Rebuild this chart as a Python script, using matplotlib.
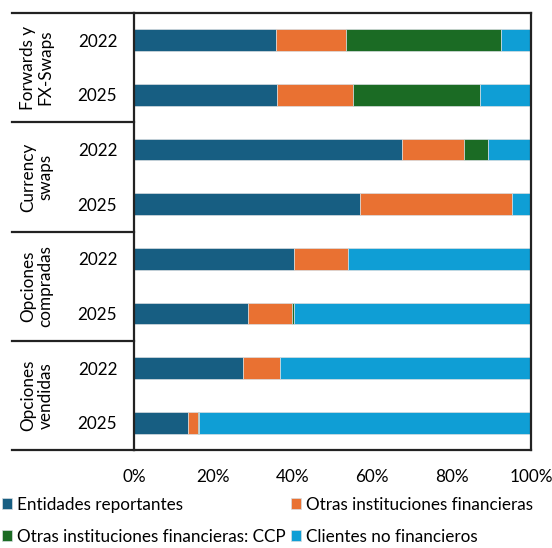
import matplotlib
matplotlib.use("Agg")
import matplotlib.pyplot as plt
import numpy as np

plt.rcParams['font.family'] = ['Lato', 'DejaVu Sans']

groups = ["Forwards y\nFX-Swaps", "Currency\nswaps", "Opciones\ncompradas", "Opciones\nvendidas"]
years = ["2022", "2025", "2022", "2025", "2022", "2025", "2022", "2025"]
series_names = ["Entidades reportantes", "Otras instituciones financieras",
                "Otras instituciones financieras: CCP", "Clientes no financieros"]
entidades = [35.8, 36.0, 67.5, 56.9, 40.4, 28.8, 27.5, 13.6]
otras = [17.5, 19.1, 15.5, 38.4, 13.4, 10.9, 9.3, 2.4]
ccp = [39.1, 32.1, 6.2, 0.0, 0.0, 0.6, 0.0, 0.3]
clientes = [100 - a - b - c for a, b, c in zip(entidades, otras, ccp)]
colors = ["#175E82", "#E97132", "#1B6B24", "#0F9ED5"]

fig = plt.figure(figsize=(5.52, 5.48), dpi=100)
ax = fig.add_axes([134/552, 1-450/548, 397/552, 437/548])

fs = 12.3
y = np.arange(len(years))
left = np.zeros(len(years))
bars = []
for vals, col, name in zip([entidades, otras, ccp, clientes], colors, series_names):
    v = np.array(vals) / 100
    b = ax.barh(y, v, left=left, height=0.4, color=col, edgecolor="#d8dde0", linewidth=0.5, label=name)
    bars.append(b)
    left += v

ax.set_xlim(0, 1)
ax.set_ylim(7.5, -0.5)
ax.set_yticks(y)
ax.set_yticklabels(years, fontsize=fs)
ax.set_xticks(np.linspace(0, 1, 6))
ax.set_xticklabels([f"{int(t)}%" for t in np.linspace(0, 100, 6)], fontsize=fs)
ax.tick_params(length=0)
ax.tick_params(axis='y', pad=12)
ax.tick_params(axis='x', pad=14)
for s in ax.spines.values():
    s.set_linewidth(1.6)
    s.set_color("#222222")

trans = matplotlib.transforms.blended_transform_factory(ax.transAxes, ax.transData)
x0 = (12 - 134) / 397
for yb in [-0.5, 1.5, 3.5, 5.5, 7.5]:
    ax.plot([x0, 0], [yb, yb], transform=trans, color="#222222", lw=1.6, clip_on=False)
for i, g in enumerate(groups):
    ax.text((37 - 134) / 397, 2 * i + 0.5, g, transform=trans, rotation=90,
            ha="center", va="center", fontsize=fs, linespacing=1.1)

handles = [bars[0], bars[2], bars[1], bars[3]]
labels = [series_names[0], series_names[2], series_names[1], series_names[3]]
fig.legend(handles, labels, loc="upper left", bbox_to_anchor=(-0.012, 1 - 488/548), ncol=2,
           frameon=False, fontsize=fs, handlelength=0.6, handleheight=0.6,
           handletextpad=0.3, columnspacing=0.3, labelspacing=0.95, borderpad=0)

fig.savefig("out.png", dpi=100)
